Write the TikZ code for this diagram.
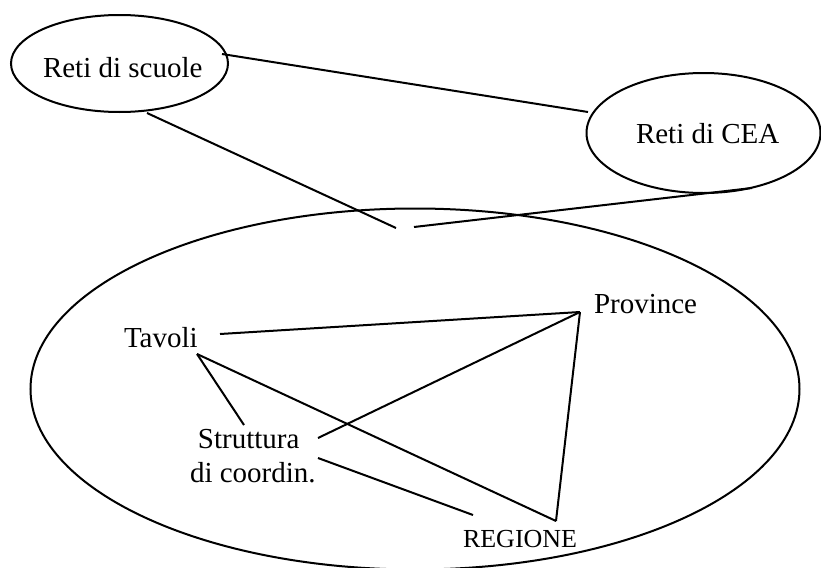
\documentclass[tikz,border=0pt]{standalone}
\usepackage{fontspec}
\setmainfont{Liberation Serif}
\usetikzlibrary{shapes.geometric}
\begin{document}
\begin{tikzpicture}[x=0.5pt,y=-0.5pt,line width=1pt,
  oval/.style={draw,ellipse,inner sep=0pt},
  lbl/.style={anchor=base west,inner sep=0pt,font=\fontsize{14.5}{17}\selectfont},
  small/.style={anchor=base west,inner sep=0pt,font=\fontsize{13}{15}\selectfont},
  link/.style={draw,line width=1pt}]
\useasboundingbox (0,0) rectangle (821,568);
% ellipses
\node[oval,minimum width=217pt*0.5,minimum height=97pt*0.5] (rs) at (119.5,63.5) {};
\node[oval,minimum width=234pt*0.5,minimum height=120pt*0.5] (cea) at (703.5,133) {};
\node[oval,minimum width=769pt*0.5,minimum height=361pt*0.5] (big) at (415,389) {};
% texts
\node[lbl] (trs) at (42,77) {Reti di scuole};
\node[lbl] (tcea) at (635,143) {Reti di CEA};
\node[lbl] (tav) at (123,347) {Tavoli};
\node[lbl] (prov) at (593,313) {Province};
\node[lbl] (str) at (197,448) {Struttura};
\node[lbl] (coo) at (189,482) {di coordin.};
\node[small] (reg) at (462,547) {REGIONE};
% connector end points
\coordinate (rsE) at (222,54);
\coordinate (rsS) at (147,113);
\coordinate (ceaW) at (588,112);
\coordinate (ceaS) at (752,188);
\coordinate (topA) at (396,228);
\coordinate (topB) at (414,227);
\coordinate (tavE) at (220,334);
\coordinate (tavC) at (197,354);
\coordinate (provP) at (580,312);
\coordinate (strN) at (244,425);
\coordinate (strE) at (318,438);
\coordinate (cooE) at (318,458);
\coordinate (regW) at (473,515);
\coordinate (regN) at (556,521);
% connectors
\draw[link] (rsE) -- (ceaW);
\draw[link] (rsS) -- (topA);
\draw[link] (topB) -- (ceaS);
\draw[link] (tavE) -- (provP);
\draw[link] (tavC) -- (regN);
\draw[link] (tavC) -- (strN);
\draw[link] (strE) -- (provP);
\draw[link] (cooE) -- (regW);
\draw[link] (provP) -- (regN);
\end{tikzpicture}
\end{document}
